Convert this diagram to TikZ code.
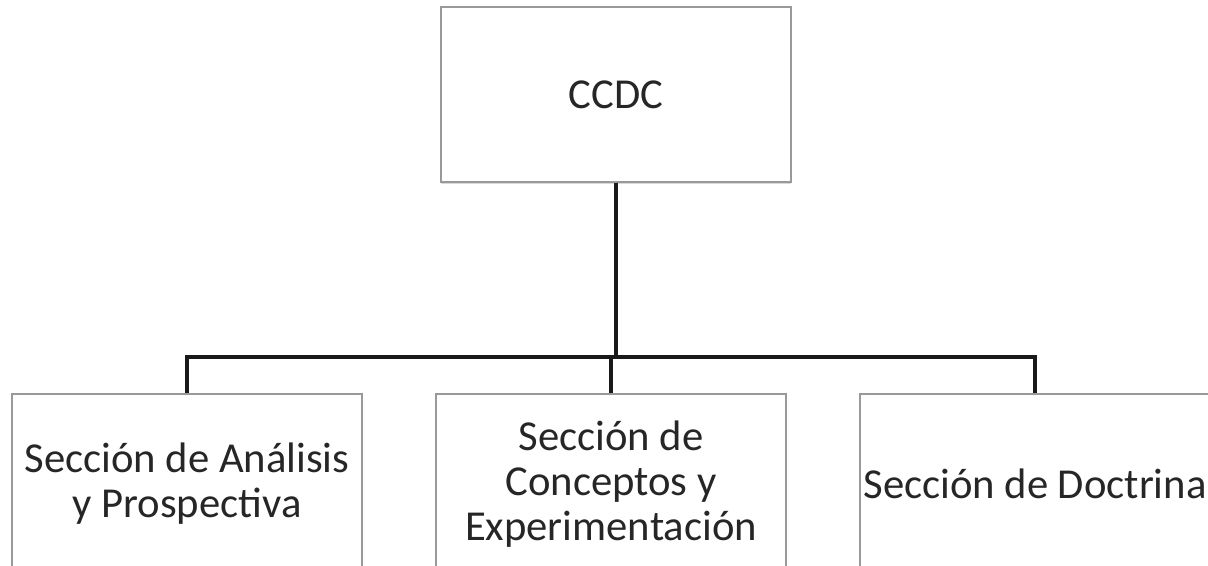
\documentclass[tikz,border=0pt]{standalone}
\usepackage{fontspec}
\setmainfont{Carlito}
\usepackage{tikz}
\usetikzlibrary{calc,shadows}

\tikzset{
    seccion/.style={draw=black!40, line width=0.8pt, fill=white, text=black!85,
        minimum width=262.5pt, inner sep=0pt, align=center,
        font=\fontsize{32}{33.75}\selectfont,
        drop shadow={shadow xshift=0pt, shadow yshift=-1.5pt, opacity=0.25, fill=black!60}},
    rama/.style={line width=3.2pt, black!90}
}

\begin{document}
\begin{tikzpicture}[x=0.75pt, y=-0.75pt]
        \useasboundingbox (0,0) rectangle (1208,566);
        \node[seccion, minimum height=131.25pt] (ccdc) at (616,94.5) {CCDC};
        \node[seccion, minimum height=135pt] (analisis) at (187,484)
            {Sección de Análisis\\y Prospectiva};
        \node[seccion, minimum height=135pt] (conceptos) at (611,484)
            {Sección de\\Conceptos y\\Experimentación};
        \node[seccion, minimum height=135pt] (doctrina) at (1035,484)
            {Sección de Doctrina};
        \coordinate (bus) at (616,357);
        \foreach \s in {analisis,conceptos,doctrina}
        \draw[rama] (ccdc.south) -- (ccdc.south |- bus) -| (\s.north);
    \end{tikzpicture}
\end{document}
